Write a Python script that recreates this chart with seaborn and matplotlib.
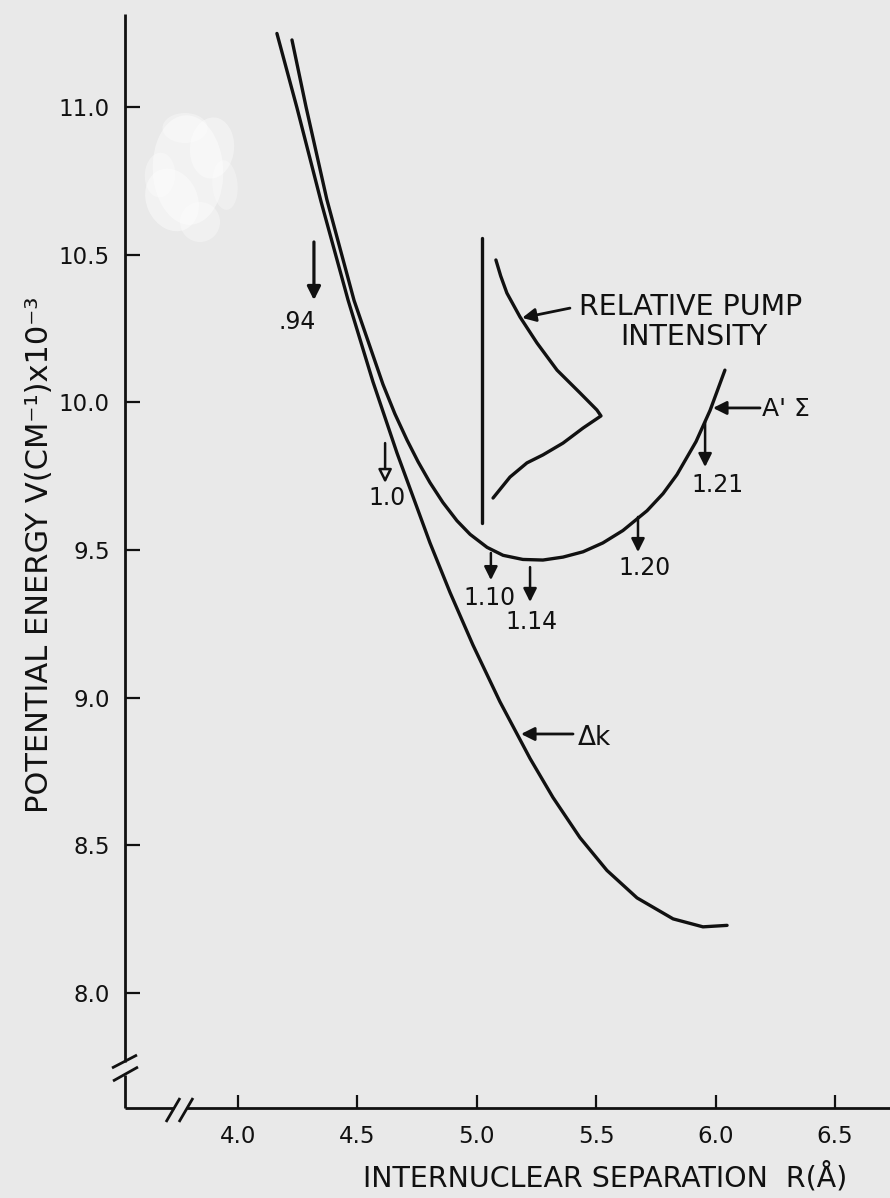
import numpy as np
import pandas as pd
import matplotlib
matplotlib.use("Agg")
import matplotlib.pyplot as plt
from matplotlib.patches import Ellipse
import seaborn as sns

# Potential curve of the A'Σ state
r_asigma = [4.226, 4.285, 4.372, 4.486, 4.607, 4.657, 4.708, 4.754, 4.804,
            4.858, 4.917, 4.972, 5.043, 5.110, 5.193, 5.277, 5.361, 5.445,
            5.528, 5.612, 5.713, 5.780, 5.838, 5.918, 5.977, 6.039]
v_asigma = [11.227, 11.000, 10.687, 10.345, 10.061, 9.961, 9.872, 9.799, 9.728,
            9.661, 9.599, 9.553, 9.509, 9.482, 9.468, 9.466, 9.476, 9.494,
            9.524, 9.566, 9.633, 9.691, 9.755, 9.867, 9.973, 10.109]

# Δk curve
r_dk = [4.163, 4.247, 4.348, 4.461, 4.565, 4.666, 4.804, 4.888, 4.984, 5.097,
        5.223, 5.319, 5.432, 5.545, 5.671, 5.822, 5.947, 6.048]
v_dk = [11.249, 10.997, 10.679, 10.346, 10.070, 9.828, 9.524, 9.356, 9.178,
        8.986, 8.794, 8.662, 8.526, 8.415, 8.322, 8.251, 8.224, 8.229]

# Relative pump intensity profile (drawn sideways, baseline at R = 5.022)
pump_base_r = 5.022
pump_base_v = [9.591, 10.556]
pump_r = [5.080, 5.100, 5.126, 5.181, 5.252, 5.336, 5.432, 5.503, 5.520,
          5.445, 5.361, 5.277, 5.210, 5.139, 5.068]
pump_v = [10.482, 10.428, 10.370, 10.289, 10.201, 10.109, 10.032, 9.974, 9.954,
          9.913, 9.862, 9.822, 9.795, 9.747, 9.676]

# Vibrational-level markers: label, R, arrow top, arrow bottom, label position
level_labels = [".94", "1.0", "1.10", "1.14", "1.20", "1.21"]
level_r = [4.318, 4.616, 5.059, 5.223, 5.675, 5.956]
level_top = [10.543, 9.862, 9.490, 9.442, 9.612, 9.933]
level_bottom = [10.346, 9.727, 9.398, 9.324, 9.493, 9.781]
label_r = [4.247, 4.624, 5.055, 5.227, 5.704, 6.010]
label_v = [10.272, 9.676, 9.337, 9.256, 9.439, 9.720]

x_ticks = [4.0, 4.5, 5.0, 5.5, 6.0, 6.5]
y_ticks = [8.0, 8.5, 9.0, 9.5, 10.0, 10.5, 11.0]

sns.set_theme(style="white")
plt.rcParams["font.family"] = ["DejaVu Sans"]

paper = "#e9e9e9"
ink = "#111111"

fig = plt.figure(figsize=(8.90, 11.98), dpi=100, facecolor=paper)
ax = fig.add_axes([125 / 890, 1 - 1108 / 1198, 765 / 890, 1094 / 1198])
ax.set_facecolor(paper)


def fx(px):
    return (px - 125) / 765


def fy(py):
    return (1108 - py) / 1094


# pale worn patch on the sheet
for cx, cy, w, h, ang, a in [(188, 170, 70, 110, 15, 0.45),
                             (172, 200, 55, 60, -20, 0.45),
                             (212, 148, 45, 60, 30, 0.4),
                             (200, 222, 40, 40, 0, 0.35),
                             (160, 175, 30, 45, -30, 0.35),
                             (225, 185, 25, 50, 10, 0.3),
                             (185, 128, 45, 30, 0, 0.35)]:
    ax.add_patch(Ellipse((fx(cx), fy(cy)), w / 765, h / 1094, angle=ang,
                         transform=ax.transAxes, color="white", alpha=a,
                         lw=0, zorder=0))

lw = 2.4
curve_kw = dict(color=ink, lw=lw, sort=False, estimator=None,
                solid_capstyle="round", solid_joinstyle="round")
sns.lineplot(data=pd.DataFrame({"R": r_asigma, "V": v_asigma}),
             x="R", y="V", ax=ax, **curve_kw)
sns.lineplot(data=pd.DataFrame({"R": r_dk, "V": v_dk}),
             x="R", y="V", ax=ax, **curve_kw)
sns.lineplot(data=pd.DataFrame({"R": pump_r, "V": pump_v}),
             x="R", y="V", ax=ax, **curve_kw)
ax.plot([pump_base_r, pump_base_r], pump_base_v, color=ink, lw=lw,
        solid_capstyle="round")

ax.set_xlim(3.5268, 6.7303)
ax.set_ylim(7.6106, 11.3149)

# Level arrows and their labels
fs_num = 17
for i, lab in enumerate(level_labels):
    hollow = lab == "1.0"
    ax.annotate("", xy=(level_r[i], level_bottom[i]),
                xytext=(level_r[i], level_top[i]),
                arrowprops=dict(arrowstyle="-|>", ec=ink,
                                fc=paper if hollow else ink,
                                lw=2.3 if lab == ".94" else 1.8,
                                mutation_scale=20, shrinkA=0, shrinkB=0))
    ax.text(label_r[i], label_v[i], lab, ha="center", va="center",
            fontsize=fs_num, color=ink)

# Curve annotations
arrow_kw = dict(arrowstyle="-|>", color=ink, lw=2.0, mutation_scale=20,
                shrinkA=0, shrinkB=0)
ax.annotate("", xy=(5.190, 10.286), xytext=(5.390, 10.319), arrowprops=arrow_kw)
ax.text(5.897, 10.323, "RELATIVE PUMP", ha="center", va="center",
        fontsize=20.5, color=ink)
ax.text(5.910, 10.221, "INTENSITY", ha="center", va="center",
        fontsize=20.5, color=ink)

ax.annotate("", xy=(5.989, 9.981), xytext=(6.186, 9.981), arrowprops=arrow_kw)
ax.text(6.194, 9.977, "A' Σ", ha="left", va="center", fontsize=18, color=ink)

ax.annotate("", xy=(5.185, 8.877), xytext=(5.403, 8.877), arrowprops=arrow_kw)
ax.text(5.424, 8.862, "Δk", ha="left", va="center", fontsize=19, color=ink)

# Axes, ticks and broken-axis marks
for s in ax.spines.values():
    s.set_visible(False)

ax.set_xticks(x_ticks)
ax.set_yticks(y_ticks)
ax.set_xticklabels([f"{t:.1f}" for t in x_ticks])
ax.set_yticklabels([f"{t:.1f}" for t in y_ticks])
ax.tick_params(axis="y", direction="in", length=11, width=1.6, colors=ink,
               labelsize=16.5, pad=11, left=True)
ax.tick_params(axis="x", direction="in", length=9.5, width=1.6, colors=ink,
               labelsize=16.5, pad=12, bottom=True)

frame_kw = dict(color=ink, lw=2.0, transform=ax.transAxes, clip_on=False,
                solid_capstyle="butt")
# left axis with a break near the bottom
ax.plot([0, 0], [fy(1062), 1.0], **frame_kw)
ax.plot([0, 0], [0, fy(1075)], **frame_kw)
ax.plot([fx(112), fx(137)], [fy(1068), fy(1055)], **frame_kw)
ax.plot([fx(113), fx(138)], [fy(1081), fy(1067)], **frame_kw)
# bottom axis with a break near the left
ax.plot([0, fx(174)], [0, 0], **frame_kw)
ax.plot([fx(186), 1.0], [0, 0], **frame_kw)
ax.plot([fx(166), fx(180)], [fy(1122), fy(1098)], **frame_kw)
ax.plot([fx(179), fx(193)], [fy(1122), fy(1098)], **frame_kw)

ax.set_xlabel("INTERNUCLEAR SEPARATION  R(Å)", fontsize=20.5, color=ink)
ax.xaxis.set_label_coords(fx(605), fy(1177))
ax.xaxis.label.set_va("center")
ax.set_ylabel("POTENTIAL ENERGY V(CM⁻¹)x10⁻³", fontsize=22, color=ink)
ax.yaxis.set_label_coords(fx(40), fy(555))
ax.yaxis.label.set_va("center")

fig.savefig("out.png", dpi=100, facecolor=paper)
